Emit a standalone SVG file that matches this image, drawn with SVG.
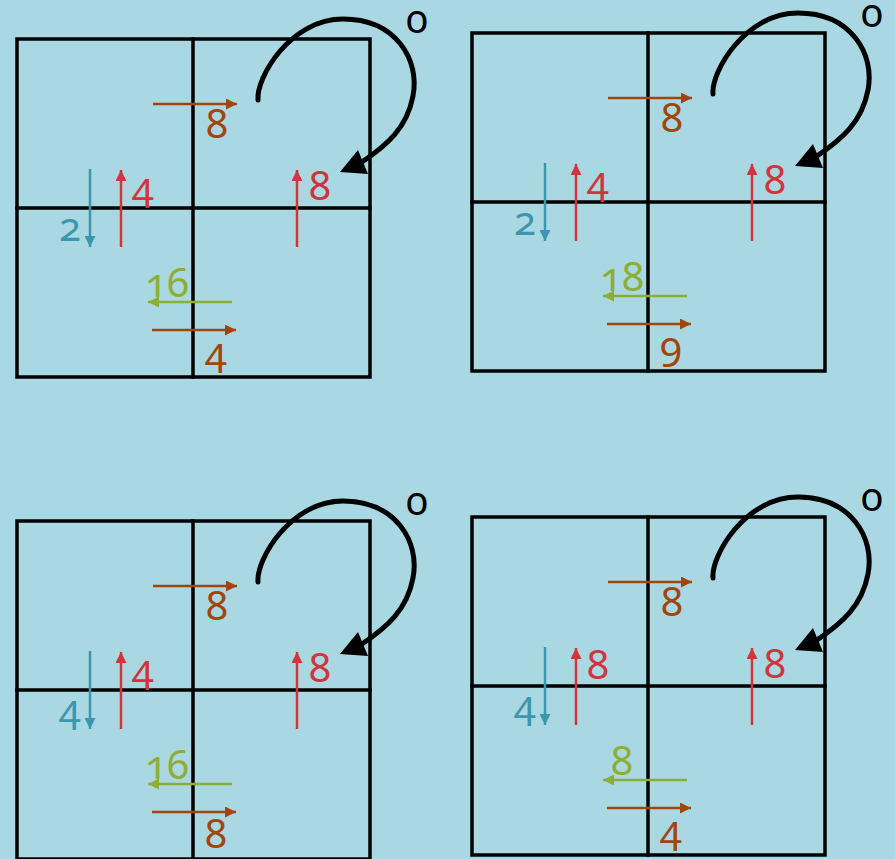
<svg xmlns="http://www.w3.org/2000/svg" xmlns:xlink="http://www.w3.org/1999/xlink" width="895" height="859" viewBox="0 0 895 859">
<style>
.grid{fill:none;stroke:#000;stroke-width:3.5;stroke-linecap:square}
.loop{fill:none;stroke:#000;stroke-width:5;stroke-linecap:round}
.t{font-family:"Noto Sans","Open Sans",sans-serif;font-size:40px;text-anchor:middle;font-variant-numeric:oldstyle-nums;font-feature-settings:"onum" 1}
.br{stroke:#a0460c;stroke-width:2.5;fill:none}
.rd{stroke:#d2343c;stroke-width:2.5;fill:none}
.tl{stroke:#3c96ae;stroke-width:2.5;fill:none}
.gn{stroke:#8dae33;stroke-width:2.5;fill:none}
.cbr{fill:#a0460c}.crd{fill:#d2343c}.ctl{fill:#3c96ae}.cgn{fill:#8dae33}
</style>
<defs>
<marker id="mbr" markerUnits="userSpaceOnUse" viewBox="0 0 10 10" markerWidth="11" markerHeight="11" refX="10" refY="5" orient="auto"><path d="M0,0 L10,5 L0,10 z" fill="#a0460c"/></marker>
<marker id="mrd" markerUnits="userSpaceOnUse" viewBox="0 0 10 10" markerWidth="11" markerHeight="11" refX="10" refY="5" orient="auto"><path d="M0,0 L10,5 L0,10 z" fill="#d2343c"/></marker>
<marker id="mtl" markerUnits="userSpaceOnUse" viewBox="0 0 10 10" markerWidth="11" markerHeight="11" refX="10" refY="5" orient="auto"><path d="M0,0 L10,5 L0,10 z" fill="#3c96ae"/></marker>
<marker id="mgn" markerUnits="userSpaceOnUse" viewBox="0 0 10 10" markerWidth="11" markerHeight="11" refX="10" refY="5" orient="auto"><path d="M0,0 L10,5 L0,10 z" fill="#8dae33"/></marker>
<g id="base">
<rect class="grid" x="17" y="39" width="353" height="338"/>
<line class="grid" x1="193" y1="39" x2="193" y2="377"/>
<line class="grid" x1="17" y1="208" x2="370" y2="208"/>
</g>
<g id="flows">
<path class="loop" d="M258,100 C256,78 290,19 343,19 C396,19 420,60 413,96 C407,128 387,145 362,162"/>
<polygon points="340,172 358,150 368,174" fill="#000"/>
<text class="t" x="417" y="33" fill="#000">0</text>
<path class="br" d="M153,104 H237" marker-end="url(#mbr)"/>
<path class="tl" d="M90,169 V247" marker-end="url(#mtl)"/>
<path class="rd" d="M121,247 V170" marker-end="url(#mrd)"/>
<path class="rd" d="M297,247 V170" marker-end="url(#mrd)"/>
<path class="gn" d="M232,302 H148" marker-end="url(#mgn)"/>
<path class="br" d="M152,330 H236" marker-end="url(#mbr)"/>
</g>
</defs>
<rect width="895" height="859" fill="#aad8e2"/>
<g id="panel1">
<use xlink:href="#base"/>
<text class="t cbr" x="217" y="138">8</text>
<text class="t ctl" x="70" y="241">2</text>
<text class="t crd" x="143" y="201">4</text>
<text class="t crd" x="320" y="200">8</text>
<text class="t cgn" x="167" y="297">16</text>
<text class="t cbr" x="216" y="366">4</text>
</g>
<g id="panel2" transform="translate(455,-6)">
<use xlink:href="#base"/>
<text class="t cbr" x="217" y="138">8</text>
<text class="t ctl" x="70" y="241">2</text>
<text class="t crd" x="143" y="201">4</text>
<text class="t crd" x="320" y="200">8</text>
<text class="t cgn" x="167" y="297">18</text>
<text class="t cbr" x="216" y="366">9</text>
</g>
<g id="panel3" transform="translate(0,482)">
<use xlink:href="#base"/>
<text class="t cbr" x="217" y="138">8</text>
<text class="t ctl" x="70" y="241">4</text>
<text class="t crd" x="143" y="201">4</text>
<text class="t crd" x="320" y="200">8</text>
<text class="t cgn" x="167" y="297">16</text>
<text class="t cbr" x="216" y="366">8</text>
</g>
<g id="panel4" transform="translate(455,478)">
<use xlink:href="#base"/>
<text class="t cbr" x="217" y="138">8</text>
<text class="t ctl" x="70" y="241">4</text>
<text class="t crd" x="143" y="201">8</text>
<text class="t crd" x="320" y="200">8</text>
<text class="t cgn" x="167" y="297">8</text>
<text class="t cbr" x="216" y="366">4</text>
</g>
<g id="connectors">
<use xlink:href="#flows"/>
<use xlink:href="#flows" transform="translate(455,-6)"/>
<use xlink:href="#flows" transform="translate(0,482)"/>
<use xlink:href="#flows" transform="translate(455,478)"/>
</g>
</svg>
